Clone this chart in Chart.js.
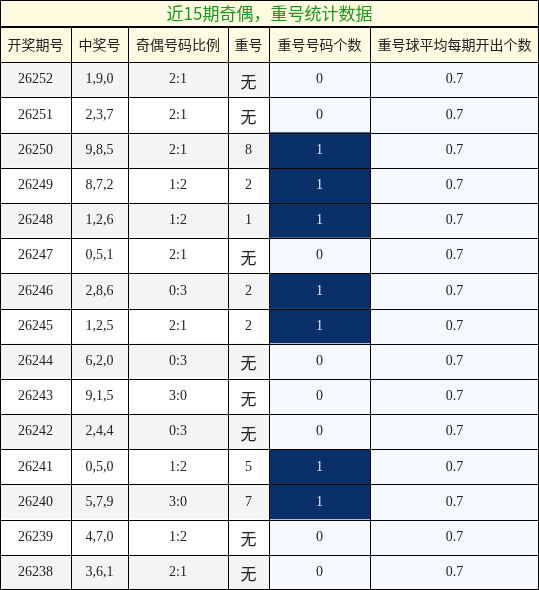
<!DOCTYPE html>
<html><head><meta charset="utf-8">
<script src="https://cdn.jsdelivr.net/npm/chart.js@4"></script>
<style>html,body{margin:0;padding:0;background:#fff}#w{width:539px;height:590px}</style>
</head><body><div id="w"><canvas id="c"></canvas></div>
<script>
const title = "近15期奇偶，重号统计数据";
const headers = ["开奖期号","中奖号","奇偶号码比例","重号","重号号码个数","重号球平均每期开出个数"];
const periods = ["26252","26251","26250","26249","26248","26247","26246","26245","26244","26243","26242","26241","26240","26239","26238"];
const draws = ["1,9,0","2,3,7","9,8,5","8,7,2","1,2,6","0,5,1","2,8,6","1,2,5","6,2,0","9,1,5","2,4,4","0,5,0","5,7,9","4,7,0","3,6,1"];
const ratios = ["2:1","2:1","2:1","1:2","1:2","2:1","0:3","2:1","0:3","3:0","0:3","1:2","3:0","1:2","2:1"];
const repeats = ["无","无","8","2","1","无","2","2","无","无","无","5","7","无","无"];
const repeatCount = [0,0,1,1,1,0,1,1,0,0,0,1,1,0,0];
const avgPerDraw = [0.7,0.7,0.7,0.7,0.7,0.7,0.7,0.7,0.7,0.7,0.7,0.7,0.7,0.7,0.7];
const colEdges = [0,71,128,228,269,370,539];

const rows = ["H"].concat(periods);
const cols = [periods, draws, ratios, repeats, repeatCount.map(String), avgPerDraw.map(v=>v.toFixed(1))];
const datasets = cols.map((col,ci)=>({
  data: rows.map(()=>[colEdges[ci], colEdges[ci+1]]),
  backgroundColor: rows.map((r,ri)=>{
    if(ri===0) return "#fffbe1";
    const i=ri-1;
    if(ci===4 && repeatCount[i]===1) return "#0a3069";
    if(ci>=4) return "#f5f8ff";
    return i%2===0 ? "#f4f4f4" : "#ffffff";
  }),
  borderWidth:0, barPercentage:1, categoryPercentage:1, grouped:false
}));

const plugin = {
  id:"tbl",
  beforeDraw(ch){
    const c=ch.ctx; c.save(); c.fillStyle="#fffbe1"; c.fillRect(0,0,539,27); c.restore();
  },
  afterDatasetsDraw(ch){
    const c=ch.ctx, x=ch.scales.x, y=ch.scales.y;
    const top=ch.chartArea.top, bottom=ch.chartArea.bottom;
    const rh=(bottom-top)/rows.length;
    c.save();
    c.textAlign="center"; c.textBaseline="middle";
    c.fillStyle="#1a961a"; c.font='17px "Noto Sans CJK SC", sans-serif';
    c.fillText(title, 269.5, 14);
    rows.forEach((r,ri)=>{
      const cy=y.getPixelForValue(ri);
      cols.forEach((col,ci)=>{
        const cx=(x.getPixelForValue(colEdges[ci])+x.getPixelForValue(colEdges[ci+1]))/2;
        let t, f;
        if(ri===0){ t=headers[ci]; f='14px "Noto Sans CJK SC", sans-serif'; c.fillStyle="#222"; }
        else {
          t=col[ri-1];
          f = t==="无" ? '16px "Noto Sans CJK SC", sans-serif' : '14px "Liberation Serif", serif';
          c.fillStyle = (ci===4 && repeatCount[ri-1]===1) ? "#dde6f5" : "#222";
        }
        c.font=f; c.fillText(t, cx, cy+(t==="无"?2:0));
      });
    });
    c.strokeStyle="#000"; c.lineWidth=1;
    for(let i=0;i<=rows.length;i++){
      const yy=Math.round(top+i*rh)+0.5;
      c.beginPath(); c.moveTo(0,yy); c.lineTo(539,yy); c.stroke();
    }
    colEdges.forEach(e=>{
      let xx=Math.round(x.getPixelForValue(e))+0.5; if(xx>538) xx=538.5;
      c.beginPath(); c.moveTo(xx,top); c.lineTo(xx,bottom); c.stroke();
    });
    c.lineWidth=2; c.beginPath(); c.moveTo(0,top); c.lineTo(539,top); c.stroke();
    c.lineWidth=1; c.strokeRect(0.5,0.5,538,589);
    c.restore();
  }
};

new Chart(document.getElementById("c"),{
  type:"bar",
  data:{labels:rows, datasets},
  options:{
    indexAxis:"y", responsive:true, maintainAspectRatio:false, animation:false,
    layout:{padding:{top:27,left:0,right:0,bottom:0}},
    plugins:{legend:{display:false},tooltip:{enabled:false}},
    scales:{
      x:{type:"linear",min:0,max:539,display:false},
      y:{type:"category",display:false,offset:true}
    }
  },
  plugins:[plugin]
});
</script></body></html>
